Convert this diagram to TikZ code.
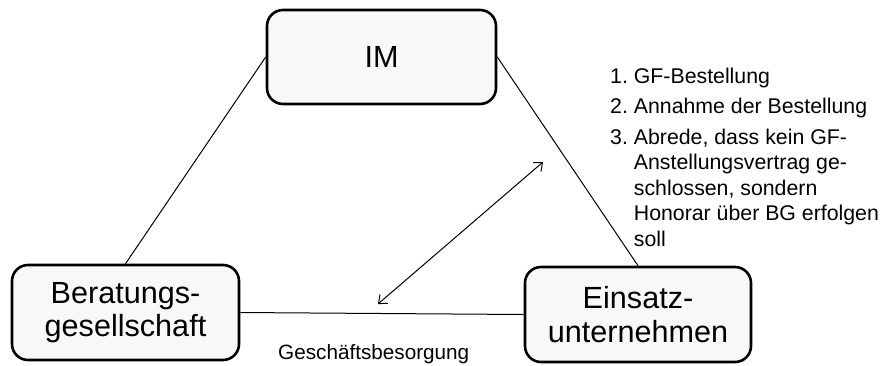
\documentclass[tikz,border=0pt]{standalone}
\usepackage{fontspec}
\setmainfont{Liberation Sans}
\usetikzlibrary{arrows.meta}
\definecolor{boxfill}{HTML}{F8F8F8}
\begin{document}
\begin{tikzpicture}[x=1pt,y=-1pt,
  party/.style={draw=black, line width=2.6pt, fill=boxfill, rounded corners=16pt,
    inner sep=0pt, align=center, font=\fontsize{30.6}{33.5}\selectfont},
  conn/.style={draw=black, line width=1pt},
  dblarrow/.style={draw=black, line width=1pt, {Straight Barb[length=7pt,width=12pt]}-{Straight Barb[length=7pt,width=12pt]}},
  label/.style={inner sep=0pt, anchor=base west}
]
\useasboundingbox (0,0) rectangle (883,365);
\node[party, minimum width=229pt, minimum height=94pt] (im) at (381.5,57) {IM};
\node[party, minimum width=227pt, minimum height=95pt] (bg) at (125.5,312.5) {Beratungs-\\gesellschaft};
\node[party, minimum width=226pt, minimum height=95pt] (eu) at (638,314.5) {Einsatz-\\unternehmen};
\draw[conn] (im.west) -- (bg.north);
\draw[conn] (im.east) -- (eu.north);
\draw[conn] (bg.east) -- (eu.west);
\coordinate (a1) at (378,304);
\coordinate (a2) at (543,162);
\draw[dblarrow] (a1) -- (a2);
\node[label, font=\fontsize{20.7}{24}\selectfont] (gb) at (278,359) {Geschäftsbesorgung};
\node[label, align=left, font=\fontsize{21.3}{25.5}\selectfont] (list) at (610,246)
{1.~GF-Bestellung\\[5pt]
 2.~Annahme der Bestellung\\[5pt]
 3.~Abrede, dass kein GF-\\
 \hphantom{3.~}Anstellungsvertrag ge-\\
 \hphantom{3.~}schlossen, sondern\\
 \hphantom{3.~}Honorar über BG erfolgen\\
 \hphantom{3.~}soll};
\end{tikzpicture}
\end{document}
